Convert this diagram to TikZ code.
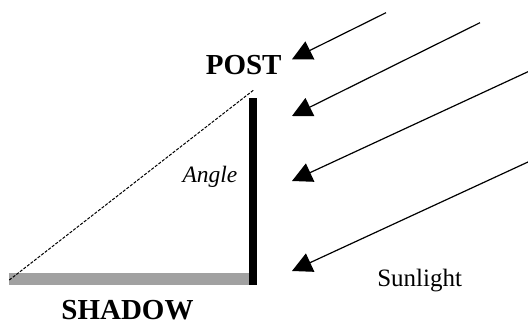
\documentclass[tikz,border=0pt]{standalone}
\usepackage{fontspec}
\setmainfont{Liberation Serif}
\usetikzlibrary{arrows.meta}

\begin{document}
\begin{tikzpicture}[x=1pt,y=-1pt,
  word/.style={inner sep=0pt,anchor=base},
  ray/.style={-{Triangle[length=20pt,width=20pt]},line width=1.2pt},
  sight/.style={line width=1pt,dash pattern=on 3pt off 1.5pt}]
\useasboundingbox (0,0) rectangle (528,326);
% shadow and post
\fill[black!37] (9,272.5) rectangle (253,284.5);
\fill[black] (249,98.5) rectangle (257,284.5);
\coordinate (foot) at (9.3,280);
\coordinate (top) at (254.3,89.5);
\draw[sight] (foot) -- (top);
% labels
\node[word,font=\fontsize{29}{29}\selectfont\bfseries] (post) at (243.7,75) {POST};
\node[word,font=\fontsize{29}{29}\selectfont\bfseries] (shadow) at (127.5,319) {SHADOW};
\node[word,font=\fontsize{23.5}{23.5}\selectfont\itshape] (angle) at (210,182.7) {Angle};
\node[word,font=\fontsize{25}{25}\selectfont] (sun) at (419.7,286) {Sunlight};
% rays of sunlight
\coordinate (s1) at (386,12.7);  \coordinate (e1) at (292,59.3);
\coordinate (s2) at (480,22.7);  \coordinate (e2) at (292,116);
\coordinate (s3) at (528,71.7);  \coordinate (e3) at (292,181);
\coordinate (s4) at (528,162);   \coordinate (e4) at (292,271);
\foreach \i in {1,...,4}
  \draw[ray] (s\i) -- (e\i);
\end{tikzpicture}
\end{document}
